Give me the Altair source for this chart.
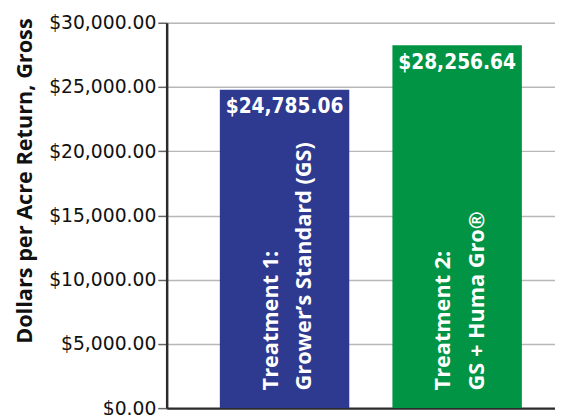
import altair as alt
import pandas as pd

categories = ["Treatment 1", "Treatment 2"]
values = [24785.06, 28256.64]
value_labels = ["$24,785.06", "$28,256.64"]
line1 = ["Treatment 1:", "Treatment 2:"]
line2 = ["Grower\u2019s Standard (GS)", "GS + Huma Gro\u00ae"]
colors = ["#2e3990", "#009444"]
y_ticks = [0, 5000, 10000, 15000, 20000, 25000, 30000]

df = pd.DataFrame({
    "cat": categories,
    "value": values,
    "vlabel": value_labels,
    "l1": line1,
    "l2": line2,
})

W, H = 394, 391

x = alt.X("cat:N", sort=categories,
          scale=alt.Scale(paddingInner=0.25, paddingOuter=0.25, align=0.616),
          axis=alt.Axis(labels=False, ticks=False, title=None, grid=False,
                        domainColor="#2b2b2b", domainWidth=2.5))

y = alt.Y("value:Q", scale=alt.Scale(domain=[0, 30000], nice=False),
          axis=alt.Axis(values=y_ticks, format="$,.2f", title="Dollars per Acre Return, Gross",
                        labelFont="DejaVu Sans", labelFontSize=19, labelColor="#111",
                        labelPadding=2, tickSize=9, tickWidth=1.5, tickColor="#666",
                        gridColor="#b8b8b8", gridWidth=1.5,
                        domainColor="#2b2b2b", domainWidth=2.5,
                        labelOverlap=False,
                        titleFont="Open Sans", titleFontSize=22, titleFontWeight="bold",
                        titleColor="#111", titleAngle=270, titleAlign="right",
                        titleBaseline="middle", titleX=-144, titleY=-5))

bars = alt.Chart(df).mark_bar().encode(
    x=x, y=y,
    color=alt.Color("cat:N", scale=alt.Scale(domain=categories, range=colors), legend=None),
)

vals = alt.Chart(df).mark_text(color="white", fontWeight="bold", font="DejaVu Sans Condensed, Roboto",
                               fontSize=21, baseline="top", dy=7).encode(
    x=alt.X("cat:N", sort=categories), y=alt.Y("value:Q"), text="vlabel:N")

t1 = alt.Chart(df).mark_text(color="white", fontWeight="bold", font="Open Sans", fontSize=22,
                             angle=270, align="left", baseline="middle", dx=18, dy=-14).encode(
    x=alt.X("cat:N", sort=categories), y=alt.value(H), text="l1:N")

t2 = alt.Chart(df).mark_text(color="white", fontWeight="bold", font="Open Sans", fontSize=22,
                             angle=270, align="left", baseline="middle", dx=18, dy=20).encode(
    x=alt.X("cat:N", sort=categories), y=alt.value(H), text="l2:N")

chart = alt.layer(bars, vals, t1, t2).properties(
    width=W, height=H,
    autosize=alt.AutoSizeParams(type="none"),
    padding={"left": 161, "top": 12, "right": 0, "bottom": 4},
).configure_view(stroke=None).configure(background="white")

chart.save("out.html", embed_options={"renderer": "svg", "actions": False})
